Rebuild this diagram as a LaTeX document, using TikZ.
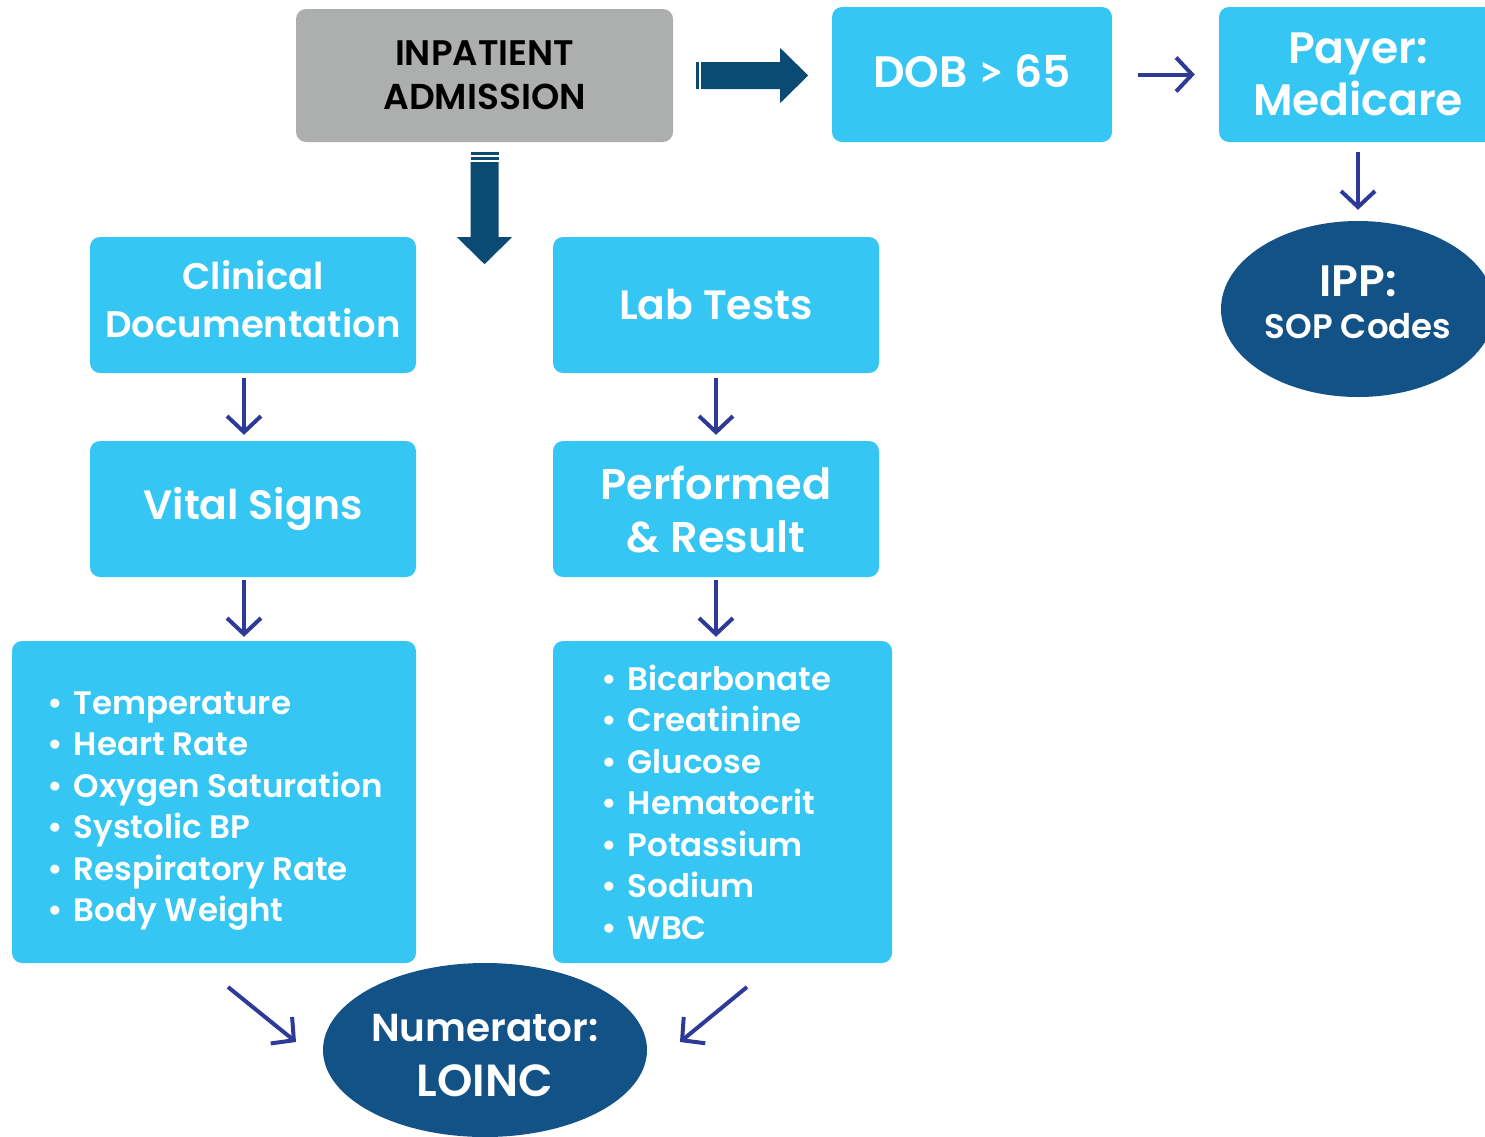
\documentclass[tikz,border=0pt]{standalone}
\usepackage{fontspec}
\setmainfont{Poppins}[BoldFont={Poppins SemiBold}]
\newfontfamily\gtfont{Lato}
\usetikzlibrary{arrows.meta,shapes.geometric}
\definecolor{cyanbox}{HTML}{35C6F4}
\definecolor{graybox}{HTML}{ADAFAE}
\definecolor{navy}{HTML}{135286}
\definecolor{darkarrow}{HTML}{0B4A73}
\definecolor{thinarrow}{HTML}{2E3A97}
\begin{document}
\begin{tikzpicture}[x=1pt,y=-1pt,
  box/.style={fill=cyanbox, rounded corners=10pt, text=white, align=center, inner sep=0pt},
  oval/.style={ellipse, fill=navy, text=white, align=center, inner sep=-60pt},
  listtext/.style={text=white, align=left, inner sep=0pt, font=\fontsize{32.5}{41.5}\selectfont\bfseries},
  link/.style={draw=thinarrow, line width=4pt, -{Straight Barb[length=16pt,width=34pt]}},
  fat/.style={fill=darkarrow}]
\useasboundingbox (0,0) rectangle (1485,1136);

\node[box, fill=graybox, text=black, minimum width=377, minimum height=133,
  font=\fontsize{36}{44}\selectfont\bfseries] (adm) at (484.5,75.5) {{\fontsize{35.5}{44}\selectfont INPATIENT}\\ADMISSION};
\node[box, minimum width=280, minimum height=135,
  font=\fontsize{44}{52}\selectfont\bfseries] (dob) at (972,74.5) {DOB {\gtfont\bfseries >} 65\rule[-6pt]{0pt}{0pt}};
\node[box, minimum width=278, minimum height=135,
  font=\fontsize{44}{52}\selectfont\bfseries] (payer) at (1358,74.5) {Payer:\\Medicare};
\node[oval, minimum width=274, minimum height=176,
  font=\fontsize{34}{42}\selectfont\bfseries] (ipp) at (1358,309) {{\fontsize{44}{42}\selectfont IPP:}\\SOP Codes\rule[-14pt]{0pt}{0pt}};

\node[box, minimum width=326, minimum height=136,
  font=\fontsize{37}{48}\selectfont\bfseries] (clin) at (253,305) {Clinical\\Documentation\rule[-12pt]{0pt}{0pt}};
\node[box, minimum width=326, minimum height=136,
  font=\fontsize{41}{52}\selectfont\bfseries] (lab) at (716,305) {Lab Tests};
\node[box, minimum width=326, minimum height=136,
  font=\fontsize{41}{52}\selectfont\bfseries] (vital) at (253,509) {Vital Signs};
\node[box, minimum width=326, minimum height=136,
  font=\fontsize{43}{53}\selectfont\bfseries] (perf) at (716,509) {Performed\\\& Result};

\node[box, minimum width=404, minimum height=322] (vlist) at (214,802) {};
\node[listtext, anchor=west] (vtext) at (47,811)
  {\textbullet\hspace{11pt}Temperature\\\textbullet\hspace{11pt}Heart Rate\\\textbullet\hspace{11pt}Oxygen Saturation\\\textbullet\hspace{11pt}Systolic BP\\\textbullet\hspace{11pt}Respiratory Rate\\\textbullet\hspace{11pt}Body Weight};
\node[box, minimum width=339, minimum height=322] (llist) at (722.5,802) {};
\node[listtext, anchor=west] (ltext) at (601,802)
  {\textbullet\hspace{11pt}Bicarbonate\\\textbullet\hspace{11pt}Creatinine\\\textbullet\hspace{11pt}Glucose\\\textbullet\hspace{11pt}Hematocrit\\\textbullet\hspace{11pt}Potassium\\\textbullet\hspace{11pt}Sodium\\\textbullet\hspace{11pt}WBC};

\node[oval, minimum width=324, minimum height=174,
  font=\fontsize{45}{55}\selectfont\bfseries] (num) at (485,1050) {{\fontsize{39}{55}\selectfont\rule{0pt}{38pt}Numerator:}\\LOINC};

% thick arrows
\coordinate (ra) at ([xshift=23pt]adm.east);
\fill[fat] (ra) ++(0,-13.5) rectangle ++(3,27);
\fill[fat] (ra) ++(5,-13.5) rectangle ++(2.5,27);
\fill[fat] (ra) ++(8,-13.5) -- ++(76,0) -- ++(0,-14) -- ++(28,27.5) -- ++(-28,27.5) -- ++(0,-14) -- ++(-76,0) -- cycle;

\coordinate (da) at ([yshift=-10pt]adm.south);
\fill[fat] (da) ++(-14,0) rectangle ++(28,2.5);
\fill[fat] (da) ++(-14,5) rectangle ++(28,3);
\fill[fat] (da) ++(-14,10) -- ++(28,0) -- ++(0,75) -- ++(13.5,0) -- ++(-27.5,27) -- ++(-27.5,-27) -- ++(13.5,0) -- cycle;

% thin arrows
\draw[link, shorten <=26pt, shorten >=24pt] (dob.east) -- (payer.west);
\draw[link, shorten <=10pt, shorten >=11pt] (payer.south) -- (ipp.north);
\draw[link, shorten <=5pt, shorten >=6pt] ([xshift=-9pt]clin.south) -- ([xshift=-9pt]vital.north);
\draw[link, shorten <=5pt, shorten >=6pt] (lab.south) -- (perf.north);
\draw[link, shorten <=3pt, shorten >=4pt] ([xshift=-9pt]vital.south) -- ([xshift=30pt]vlist.north);
\draw[link, shorten <=3pt, shorten >=4pt] (perf.south) -- ([xshift=-6.5pt]llist.north);

\coordinate (d1s) at (228,987);
\coordinate (d1e) at (296,1042);
\coordinate (d2s) at (747,987);
\coordinate (d2e) at (680,1042);
\draw[link] (d1s) -- (d1e);
\draw[link] (d2s) -- (d2e);
\end{tikzpicture}
\end{document}
